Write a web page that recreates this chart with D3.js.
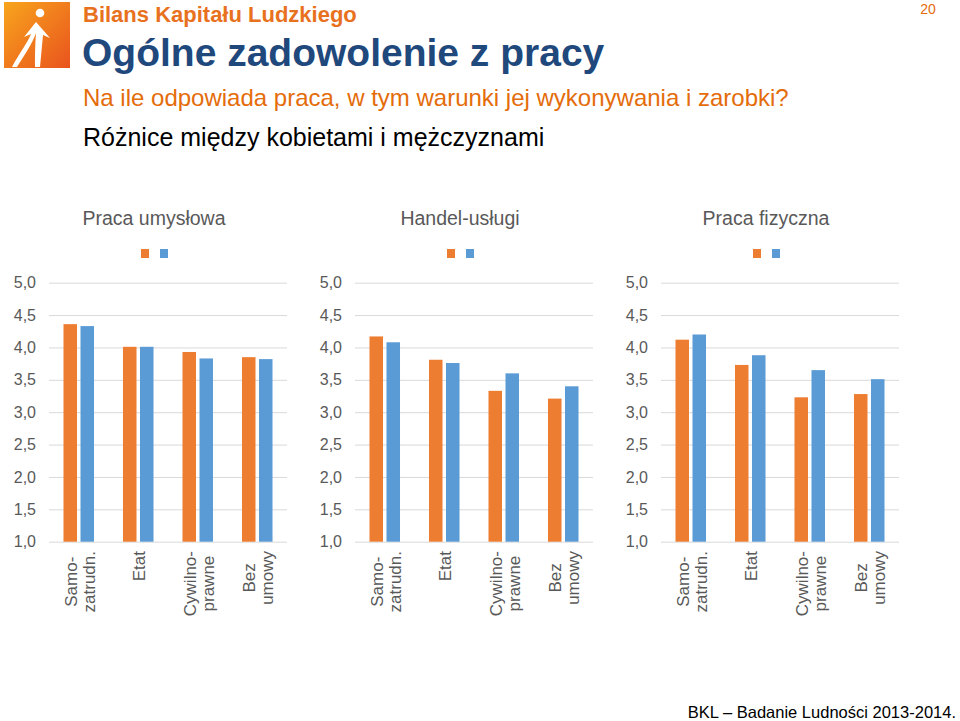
<!DOCTYPE html>
<html><head><meta charset="utf-8">
<script src="https://cdn.jsdelivr.net/npm/d3@7"></script>
<style>body{margin:0;background:#fff}svg{display:block;font-family:"Liberation Sans",Arial,sans-serif}</style>
</head><body>
<svg id="c" width="960" height="721"></svg>
<script>
const panels = ["Praca umysłowa", "Handel-usługi", "Praca fizyczna"];
const categories = [["Samo-", "zatrudn."], ["Etat"], ["Cywilno-", "prawne"], ["Bez", "umowy"]];
const series = ["Kobiety", "Mężczyźni"];
const valuesKobiety = [
  [4.36, 4.01, 3.93, 3.85],
  [4.17, 3.81, 3.33, 3.21],
  [4.12, 3.73, 3.23, 3.28]
];
const valuesMezczyzni = [
  [4.33, 4.01, 3.83, 3.82],
  [4.08, 3.76, 3.60, 3.40],
  [4.20, 3.88, 3.65, 3.51]
];
const yTicks = [1.0, 1.5, 2.0, 2.5, 3.0, 3.5, 4.0, 4.5, 5.0];
const colors = ["#ED7D31", "#5B9BD5"];

const svg = d3.select("#c");

// Logo
const defs = svg.append("defs");
const g1 = defs.append("linearGradient").attr("id","lg").attr("x1","0").attr("y1","0").attr("x2","1").attr("y2","1");
g1.append("stop").attr("offset","0").attr("stop-color","#F8A51C");
g1.append("stop").attr("offset","1").attr("stop-color","#E9531E");
svg.append("rect").attr("x",4).attr("y",2).attr("width",66).attr("height",66).attr("fill","url(#lg)");
svg.append("circle").attr("cx",40).attr("cy",13).attr("r",4.3).attr("fill","#fff");
svg.append("path").attr("fill","#fff")
  .attr("d","M12,67 C20,52 28,42 31,34 L24,37 L36,22 L50,38 L43,35 C42,46 41,56 40,67 L35,67 C35,56 35,46 36,33 C32,44 24,56 17,67 Z");

// Header texts
svg.append("text").attr("x",83).attr("y",22).attr("font-size",22).attr("font-weight","bold").attr("fill","#E8711E").text("Bilans Kapitału Ludzkiego");
svg.append("text").attr("x",82).attr("y",66).attr("font-size",39).attr("font-weight","bold").attr("fill","#1F487C").text("Ogólne zadowolenie z pracy");
svg.append("text").attr("x",83).attr("y",106).attr("font-size",24).attr("fill","#E46C0A").text("Na ile odpowiada praca, w tym warunki jej wykonywania i zarobki?");
svg.append("text").attr("x",83).attr("y",146).attr("font-size",25).attr("fill","#000").text("Różnice między kobietami i mężczyznami");
svg.append("text").attr("x",928).attr("y",14).attr("text-anchor","middle").attr("font-size",14).attr("fill","#E46C0A").text("20");
svg.append("text").attr("x",956).attr("y",718).attr("text-anchor","end").attr("font-size",16.5).attr("fill","#000").text("BKL – Badanie Ludności 2013-2014.");

const plotW = 238, plotTop = 282.7, plotBottom = 541.7;
const y = d3.scaleLinear().domain([1, 5]).range([plotBottom, plotTop]);
const x0 = d3.scaleBand().domain(d3.range(categories.length)).range([0, plotW]).paddingInner(0.487).paddingOuter(0.2435);
const x1 = d3.scaleBand().domain(d3.range(series.length)).range([0, x0.bandwidth()]).paddingInner(3.5/17);

panels.forEach((name, p) => {
  const left = 49 + p * 306;
  const g = svg.append("g").attr("transform", `translate(${left},0)`);
  const cx = plotW / 2 - 14;
  g.append("text").attr("x", cx).attr("y", 225).attr("text-anchor","middle").attr("font-size",19.5).attr("fill","#595959").text(name);
  // legend
  series.forEach((s, i) => {
    g.append("rect").attr("x", cx - 13 + i * 19).attr("y", 249).attr("width", 8).attr("height", 9).attr("fill", colors[i]);
  });
  // grid
  const ax = g.append("g").call(d3.axisLeft(y).tickValues(yTicks).tickSize(-plotW).tickPadding(13).tickFormat(d => d3.format(".1f")(d).replace(".", ",")));
  ax.select(".domain").remove();
  ax.selectAll(".tick line").attr("stroke", "#D9D9D9");
  ax.selectAll(".tick text").attr("font-size", 16).attr("fill", "#595959").attr("font-family", '"Liberation Sans",Arial,sans-serif');
  // bars
  const data = [valuesKobiety[p], valuesMezczyzni[p]];
  categories.forEach((cat, c) => {
    series.forEach((s, i) => {
      const v = data[i][c];
      g.append("rect").attr("x", x0(c) + x1(i)).attr("y", y(v)).attr("width", x1.bandwidth()).attr("height", y(1) - y(v)).attr("fill", colors[i]);
    });
    // label
    const ccx = x0(c) + x0.bandwidth() / 2;
    const lg = g.append("g");
    const texts = cat.map((line, li) => lg.append("text").attr("font-size", 17).attr("fill", "#595959").attr("text-anchor","middle").text(line));
    const L = d3.max(texts, t => t.node().getComputedTextLength());
    const cy = 551 + L / 2;
    texts.forEach((t, li) => {
      const bx = ccx + 7 + (li - (cat.length - 1) / 2) * 18;
      t.attr("transform", `translate(${bx},${cy}) rotate(-90)`);
    });
  });
});
</script>
</body></html>
